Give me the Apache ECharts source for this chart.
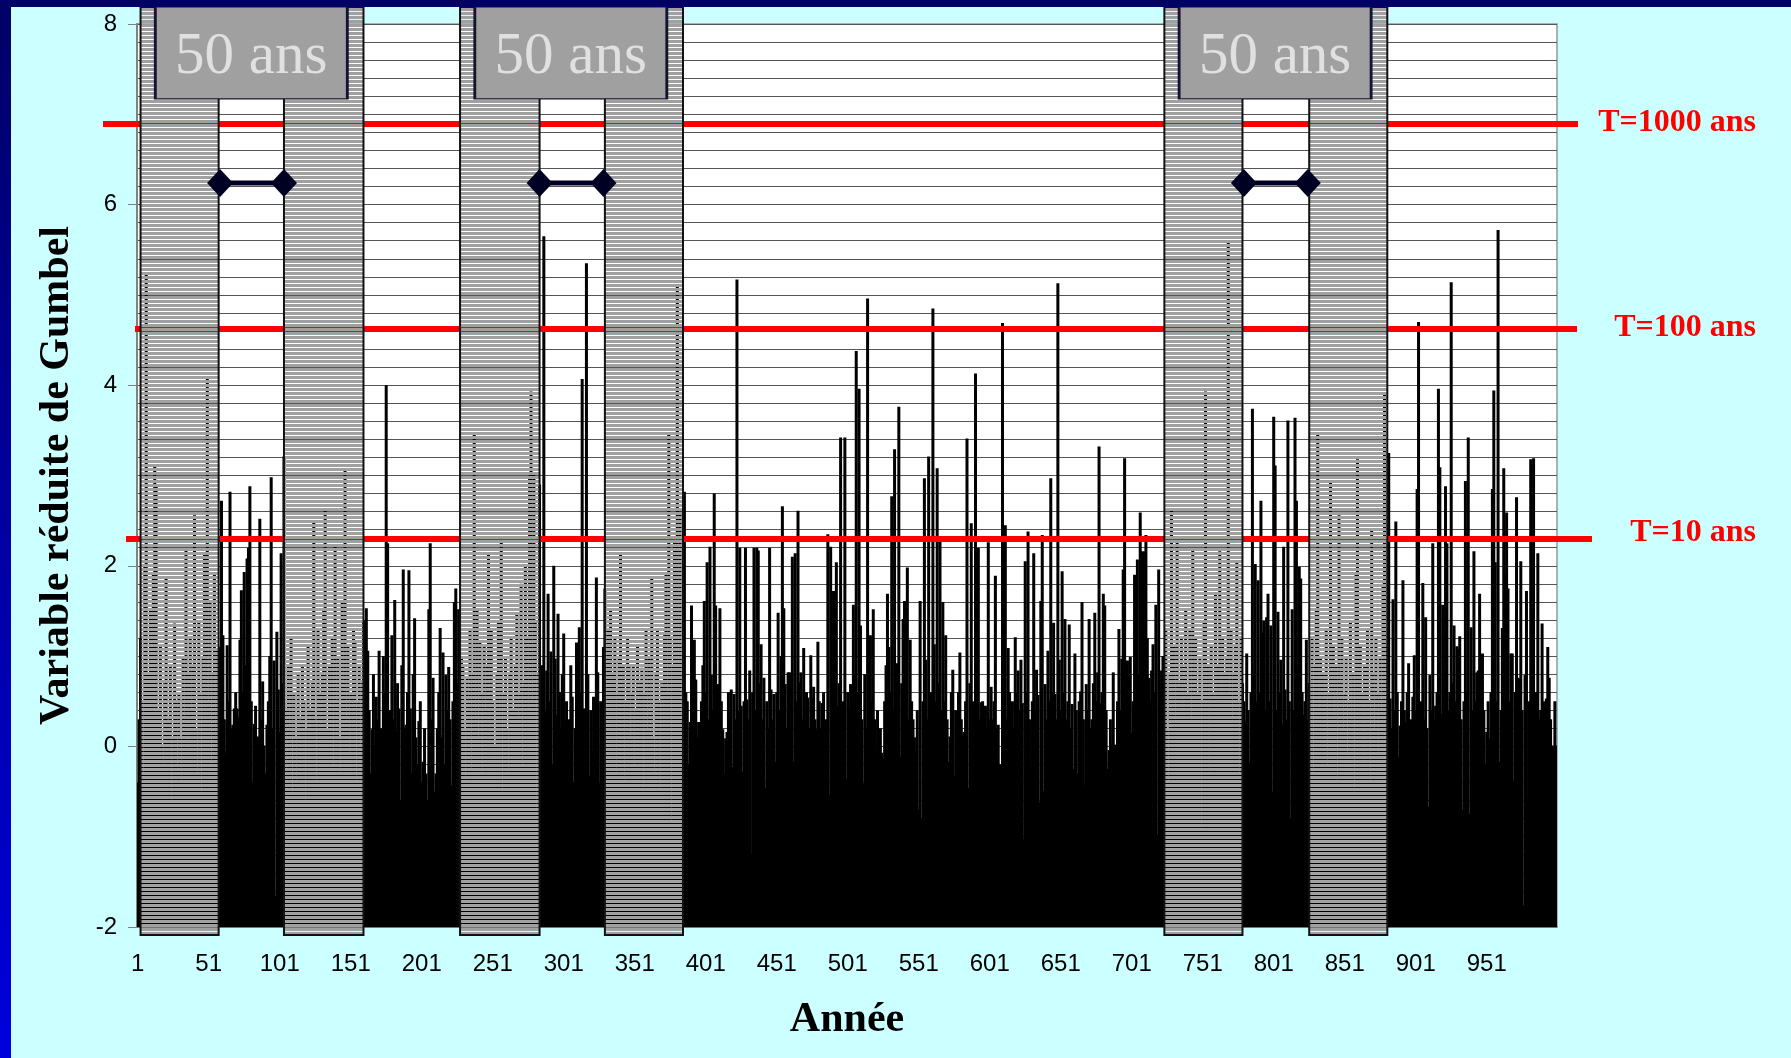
<!DOCTYPE html>
<html>
<head>
<meta charset="utf-8">
<title>Variable réduite de Gumbel</title>
<script src="https://cdn.jsdelivr.net/npm/echarts@6/dist/echarts.min.js"></script>
<style>
  html, body { margin: 0; padding: 0; background: #ccffff; }
  #chart { width: 1791px; height: 1058px; }
</style>
</head>
<body>
<div id="chart"></div>
<script>
// années 1..1000
var years = [];
for (var k = 1; k <= 1000; k++) years.push(String(k));

// variable réduite de Gumbel (une valeur par année)
var gumbel = [
  -0.4, 0.3, 1.2, 0.5, -0.3, 2.0, 5.25, 0.8, -0.5, 1.5,
  0.2, 1.9, 3.1, 2.88, 0.4, -0.6, 1.1, 0.0, -0.2, 0.7,
  1.86, 0.3, -0.5, 0.9, -0.6, 0.1, 1.36, 0.5, -0.2, 0.6,
  0.1, -0.4, 1.0, 0.3, 2.17, 0.8, -0.1, 1.2, 0.4, 0.9,
  2.56, 0.2, -0.3, 1.4, 0.6, -0.5, 1.0, 2.12, 0.3, 4.1,
  0.5, 1.6, -0.2, 0.8, 1.9, 0.1, 1.08, 0.4, 1.1, 2.72,
  1.23, 0.3, -0.07, 1.12, 0.5, 2.82, 0.2, 0.24, 0.42, 0.6,
  0.42, 0.32, 1.18, 1.73, 0.6, 1.93, 0.9, 2.08, 2.2, 2.88,
  0.5, -0.4, 0.25, 0.45, 0.0, 0.11, 2.52, 0.3, 0.72, 0.01,
  -0.3, 0.24, 0.5, 1.0, 2.98, 0.2, 0.95, -1.66, 1.27, 0.63,
  0.16, 2.14, 0.7, 3.21, 0.4, -0.3, 0.9, 0.2, 1.22, -0.5,
  0.6, 0.1, -0.4, 0.8, 0.3, -0.2, 0.9, 0.5, -0.6, 0.2,
  1.1, 0.4, -0.1, 0.7, 2.48, 0.3, -0.4, 1.3, 0.6, 0.0,
  0.8, 1.5, 2.61, 0.2, -0.5, 0.9, 0.4, 1.2, -0.2, 2.21,
  0.5, 1.0, 0.1, -0.3, 1.6, 0.7, 3.08, 0.3, 1.1, -0.1,
  0.6, 0.2, 1.3, 1.16, -0.4, 0.5, 0.9, 0.0, 0.7, 1.4,
  0.3, 1.53, 1.06, 0.4, -0.3, 0.19, 0.8, 0.01, 0.55, 0.3,
  1.06, 0.2, -0.5, 1.0, 0.6, 4.0, 2.25, -0.2, 0.4, 1.23,
  0.3, 1.62, 0.16, 0.7, 0.42, -0.6, 0.9, 1.96, 0.2, 0.24,
  0.6, 1.95, 0.42, -0.3, 0.8, 1.42, 0.1, -0.2, 0.28, 0.5,
  -0.4, -0.17, 0.2, -0.3, -0.6, 1.52, 2.25, 0.3, 0.76, -0.5,
  -0.3, 0.2, 0.6, 1.31, 0.1, 1.04, -0.2, 0.79, 0.4, 0.88,
  0.3, -0.43, 0.5, 1.6, 1.75, 0.7, 1.52, 0.6, 1.0, 0.9,
  0.2, -0.4, 0.76, 0.5, 1.3, -0.25, 0.8, 3.47, 0.3, 1.5,
  0.1, 1.16, 0.6, -0.3, 1.1, 0.4, 0.9, 2.12, 0.2, 1.3,
  0.5, -0.2, 0.01, 0.8, 1.4, 0.3, 2.26, -0.5, 0.6, 1.0,
  0.2, -0.3, 0.79, 1.2, 0.4, -0.1, 0.9, 1.47, 0.3, 0.6,
  1.8, -0.2, 0.7, 2.02, 1.2, 0.4, 3.0, 3.93, 0.5, 3.03,
  1.4, -0.72, 0.8, 2.9, 0.11, 0.9, 5.65, 0.4, 0.84, 1.69,
  0.5, 1.05, -0.2, 2.0, 0.97, 0.35, 1.47, 0.6, 0.19, 0.8,
  1.25, 0.28, 0.5, -0.1, 0.3, 0.9, 0.55, -0.4, 0.2, 1.15,
  0.71, 1.32, 0.6, 4.07, 0.42, 0.3, 5.35, 0.8, -0.33, 0.4,
  -0.07, 0.55, 0.2, 1.87, 0.82, -0.41, 0.5, 0.01, 1.1, 1.75,
  0.4, 1.3, -0.2, 1.5, 0.3, 0.8, 1.2, -0.3, 0.6, 1.0,
  2.15, 0.2, 0.9, -0.4, 0.5, 1.2, 0.9, 0.1, 0.6, 0.9,
  -0.2, 0.4, 1.1, 0.3, 0.7, 0.87, -0.5, 0.6, 1.31, 0.2,
  1.0, 0.4, 1.87, 0.1, -0.3, 0.8, 1.3, 0.5, -0.46, 0.7,
  0.2, 1.23, 1.9, 0.6, 3.45, 1.2, -0.83, 0.9, 2.3, 0.5,
  5.09, 1.4, 2.6, 0.3, 1.1, 2.82, 0.6, 0.5, -0.2, 0.27,
  1.56, 0.4, 1.18, 0.74, 0.1, 0.27, 0.19, 0.5, 0.9, 1.61,
  0.6, 2.04, 0.3, 2.21, 0.79, 0.4, 2.8, 1.56, 0.2, 0.69,
  1.53, 0.5, 0.19, -0.3, 0.09, 0.16, 0.6, 0.38, 0.63, -0.23,
  0.58, 0.3, 5.17, 0.4, 2.2, 0.45, -0.28, 0.5, 2.2, 0.52,
  0.3, 0.84, -1.19, 0.6, 2.2, 0.4, 2.2, 2.17, 0.7, 1.13,
  0.3, 0.76, -0.46, 0.5, 0.2, 2.2, 0.63, 0.3, 0.58, -0.17,
  0.6, 1.48, 0.4, 1.0, 2.66, 1.53, 0.69, 0.2, 0.82, 0.82,
  0.4, 2.1, -0.17, 2.14, 0.5, 2.61, 0.71, 0.82, 0.3, 1.09,
  0.27, 0.6, 0.54, 0.2, 1.01, 0.53, 0.66, 0.3, 0.19, 1.16,
  0.5, 0.2, 0.48, 0.6, -0.04, 0.3, 2.35, -0.54, 2.21, 0.6,
  1.72, -0.54, 2.04, 0.45, 0.7, 3.42, -1.09, 0.5, 3.42, -0.36,
  0.6, 0.42, 0.69, 0.3, 1.57, 0.8, 4.38, 0.6, 3.96, 1.34,
  0.3, -0.41, 0.8, 0.2, 4.96, -0.62, 1.23, 0.5, 1.52, 0.3,
  -0.04, 0.4, -0.36, 0.2, -0.07, -0.14, 0.5, 0.9, 1.69, 1.1,
  0.6, 2.77, 0.4, 3.29, 0.5, 0.92, 3.76, -0.12, 0.7, 1.41,
  1.61, 0.6, 1.98, 0.3, 1.18, 0.5, 0.3, 0.1, -0.07, 0.4,
  -0.7, 1.61, -0.8, 0.5, 2.97, 0.96, 0.3, 3.21, -0.17, 0.6,
  4.85, 1.13, 0.5, 3.08, 0.7, 2.28, 0.4, 1.6, 0.5, 1.23,
  0.3, -0.17, 0.11, 0.6, 0.85, -0.33, 0.4, 0.27, 0.6, 1.04,
  0.3, 0.12, 0.16, 0.5, 3.41, -0.46, 0.7, 2.47, 0.5, 0.49,
  4.13, 0.6, 2.2, 0.3, 0.49, 0.5, 0.23, 0.45, 0.2, 2.26,
  0.3, 0.66, 0.3, 0.5, 1.89, 0.2, 0.24, -0.2, -1.35, 4.69,
  0.5, 2.45, 0.3, 1.09, 0.6, 0.37, 0.5, 0.2, 1.21, 0.6,
  0.84, 0.4, 0.96, 0.48, -1.03, 2.05, 0.6, 2.38, 0.3, -0.25,
  0.5, 2.14, 0.4, 0.85, 0.57, -0.62, 1.61, 2.34, -0.49, 0.69,
  0.3, 1.06, 0.5, 2.97, 0.6, 1.37, 0.58, 0.3, 5.13, 0.96,
  0.4, 1.94, 0.6, 1.41, 0.3, 0.5, 1.35, 0.2, 0.47, -0.25,
  1.03, 0.4, -0.3, 0.5, 0.61, 1.6, 0.3, -0.43, 0.69, 0.4,
  1.41, 0.2, 0.3, 0.7, 1.48, 0.5, 0.82, 3.32, 0.48, 0.6,
  1.69, 1.56, 0.4, -0.25, -0.04, 0.3, 0.02, 0.82, 0.02, -0.28,
  0.5, 1.3, 0.4, 0.97, 1.96, 3.19, 0.6, 0.95, 0.79, 0.99,
  0.15, 0.5, 1.9, 1.55, 2.07, 0.8, 2.59, 2.16, 0.9, 2.16,
  2.34, 1.2, 0.76, 0.5, 0.84, 1.13, 0.6, 1.57, -0.98, 1.96,
  0.6, 0.84, 1.0, 0.9, 1.3, 0.2, -0.4, 0.8, 2.61, 0.5,
  1.1, 0.3, 2.26, 0.7, -0.2, 1.2, 0.4, 0.9, 1.5, 0.1,
  0.6, 1.3, 0.3, 2.17, 0.8, 1.2, -0.1, 0.6, 1.0, -0.9,
  0.5, 1.4, 3.93, 0.3, 0.9, -0.3, 1.1, 0.6, 0.2, 1.7,
  0.4, 0.9, 2.16, 0.5, 1.2, -0.2, 0.8, 1.0, 5.6, 0.6,
  1.3, 0.3, 0.8, 1.1, 2.04, 0.5, -0.3, 1.2, 0.7, 0.5,
  0.27, 1.03, 0.4, -0.17, 0.6, 3.74, 0.8, 2.02, 0.5, 1.84,
  0.6, 2.72, 1.26, 1.39, 0.4, 1.43, 1.69, 0.5, 1.34, -0.5,
  3.65, 3.11, 0.4, 1.49, 0.6, 0.96, 0.24, 2.21, 0.63, 0.3,
  3.61, 0.5, -0.8, 1.52, 0.4, 3.64, 2.72, 0.9, 1.99, 1.86,
  0.6, 0.35, 0.5, 1.18, 0.3, 0.7, 0.55, 1.2, -0.3, 0.9,
  1.5, 3.47, 0.4, 1.0, 0.2, 0.8, 0.55, 1.3, -0.2, 0.6,
  2.95, 0.4, 1.1, 0.3, 0.9, -0.4, 2.56, 0.7, 1.2, 0.2,
  0.6, 1.0, -0.1, 0.5, 1.4, 0.3, 0.8, -0.5, 1.9, 3.18,
  0.4, 1.1, 0.6, -0.2, 0.9, 0.3, 1.3, 0.5, -0.4, 2.41,
  0.8, 0.2, 1.2, 0.6, -0.1, 1.0, 0.4, 1.8, 3.92, 0.5,
  1.1, 3.25, 0.53, 0.2, 1.63, 0.4, 2.49, 0.6, -0.12, 0.23,
  0.5, 1.84, 0.4, 0.27, 0.6, 0.92, 0.05, 0.3, 0.55, 1.01,
  0.4, 2.85, 4.7, 0.35, 0.5, 1.81, 0.3, 1.43, 0.2, -0.67,
  0.79, 0.4, 2.25, 0.3, 0.45, 0.6, 3.96, 3.09, 0.36, 1.57,
  0.5, 2.88, 2.25, 0.4, 0.6, 5.14, 0.71, 1.34, 0.5, 1.11,
  1.08, 1.22, 0.3, -0.7, 0.5, 2.94, 0.6, 3.42, -0.75, 1.32,
  0.4, 2.16, 0.5, 0.82, 0.84, 1.69, 0.3, 1.03, 0.4, -0.2,
  0.16, 0.5, 0.09, 0.6, 2.85, 3.94, 2.04, 0.5, 5.72, -0.17,
  0.4, 1.31, 3.08, 1.9, 2.59, 1.75, 0.5, 1.03, 1.03, -0.38,
  0.6, 2.76, 0.76, 0.75, 2.05, 0.4, -1.76, 0.79, 1.72, -0.56,
  0.5, 3.18, 1.52, 3.19, 0.11, 0.6, 2.14, 0.3, 0.4, 1.36,
  0.5, -0.38, 0.53, 1.1, 0.76, 0.3, -0.41, 0.01, 0.5, 0.01
];

// périodes de retour
var returnNames = ['T=10 ans', 'T=100 ans', 'T=1000 ans'];
var returnLevels = [2.3, 4.62, 6.9];

// bandes grisées (index de l'année de début / de fin)
var bandStart = [2, 103, 227, 329, 723, 825];
var bandEnd = [57, 159, 283, 384, 778, 880];

// repères "50 ans" entre deux bandes
var spanStart = [58, 283, 779];
var spanEnd = [103, 328, 824];
var spanMid = [80, 305, 801];
var spanLevel = 6.24;
var boxLevel = 7.68;
var boxText = '50 ans';

// axe vertical
var yMin = -2, yMax = 8, yStep = 2;

var chart = echarts.init(document.getElementById('chart'));

// hachures horizontales des bandes grises
var hatch = document.createElement('canvas');
hatch.width = 4;
hatch.height = 4;
var ctx = hatch.getContext('2d');
ctx.fillStyle = '#a0a0a0';
ctx.fillRect(0, 0, 4, 3);

// début / fin des traits rouges (px) et décalage des libellés
var redFrom = [126, 135, 103];
var redTo = [1592, 1577, 1578];
var labelShift = [-6, -1, -1];

var bands = bandStart.map(function (s, i) {
  return [{ xAxis: s, y: 7 }, { xAxis: bandEnd[i], y: 935 }];
});
var redLines = returnLevels.map(function (v, i) {
  return [{ x: redFrom[i], yAxis: v }, { x: redTo[i], yAxis: v }];
});

var serif = 'Liberation Serif, Times New Roman, serif';
var sans = 'Liberation Sans, Arial, sans-serif';

var series = [{
  type: 'bar',
  data: gumbel,
  barWidth: 3,
  z: 2,
  itemStyle: { color: '#000' },
  silent: true,
  markLine: {
    z: 3,
    silent: true,
    symbol: ['none', 'none'],
    label: { show: false },
    lineStyle: { color: '#ff0000', width: 6, type: 'solid' },
    data: redLines
  }
}];

spanStart.forEach(function (s, i) {
  var serie = {
    type: 'line',
    data: [[s, spanLevel], [spanEnd[i], spanLevel]],
    z: 6,
    symbol: 'diamond',
    symbolSize: [26, 28],
    showSymbol: true,
    showAllSymbol: true,
    itemStyle: { color: '#000022' },
    lineStyle: { color: '#000022', width: 5 },
    silent: true,
    markPoint: {
      z: 7,
      silent: true,
      symbol: 'rect',
      symbolSize: [192, 92],
      itemStyle: { color: '#a0a0a0', borderColor: '#141430', borderWidth: 2 },
      label: {
        show: true,
        position: 'inside',
        offset: [0, 5],
        formatter: boxText,
        fontFamily: serif,
        fontSize: 59,
        color: '#e0e0e0'
      },
      data: [{ coord: [spanMid[i], boxLevel] }]
    }
  };
  if (i === 0) {
    serie.markArea = {
      z: 4,
      silent: true,
      itemStyle: {
        color: { image: hatch, repeat: 'repeat' },
        borderColor: '#111',
        borderWidth: 2
      },
      label: { show: false },
      data: bands
    };
  }
  series.push(serie);
});

chart.setOption({
  animation: false,
  backgroundColor: '#ccffff',
  grid: {
    left: 137, top: 24, width: 1420, height: 903,
    show: true,
    backgroundColor: '#ffffff',
    borderColor: '#999',
    borderWidth: 1.5,
    containLabel: false,
    outerBoundsMode: 'none'
  },
  xAxis: {
    type: 'category',
    data: years,
    name: 'Année',
    nameLocation: 'middle',
    nameGap: 72,
    nameTextStyle: { fontFamily: serif, fontWeight: 'bold', fontSize: 42, color: '#000' },
    axisLine: { onZero: false, lineStyle: { color: '#808080', width: 1.5 } },
    axisTick: { interval: 0, length: 6, lineStyle: { color: '#4d5b5b' } },
    axisLabel: { interval: 49, margin: 25, fontFamily: sans, fontSize: 24, color: '#000' },
    splitLine: { show: false }
  },
  yAxis: {
    type: 'value',
    min: yMin, max: yMax, interval: yStep,
    startValue: yMin,
    name: 'Variable réduite de Gumbel',
    nameLocation: 'middle',
    nameRotate: 90,
    nameGap: 59,
    nameTextStyle: { fontFamily: serif, fontWeight: 'bold', fontSize: 42, color: '#000' },
    axisLine: { show: true, lineStyle: { color: '#808080', width: 2 } },
    axisTick: { show: true, length: 9, lineStyle: { color: '#808080' } },
    axisLabel: { margin: 20, fontFamily: sans, fontSize: 24, color: '#000' },
    splitLine: { show: true, lineStyle: { color: '#555', width: 1 } },
    minorTick: { show: false, splitNumber: 10 },
    minorSplitLine: { show: true, lineStyle: { color: '#555', width: 1 } }
  },
  graphic: [
    { type: 'rect', id: 'topBand', shape: { x: 0, y: 0, width: 1791, height: 7 }, style: { fill: '#000066' }, z: 10 },
    {
      type: 'rect', id: 'leftBand', shape: { x: 0, y: 0, width: 11, height: 1058 }, z: 10,
      style: {
        fill: new echarts.graphic.LinearGradient(0, 0, 0, 1, [
          { offset: 0, color: '#000066' },
          { offset: 1, color: '#0000dd' }
        ])
      }
    }
  ],
  series: series
});

// libellés des périodes de retour, placés sur l'échelle de l'axe
var labels = returnLevels.map(function (v, i) {
  return {
    type: 'text',
    id: 'ret' + i,
    x: 1756,
    y: chart.convertToPixel({ yAxisIndex: 0 }, v) + labelShift[i],
    z: 10,
    style: {
      text: returnNames[i],
      fill: '#ff0000',
      font: 'bold 32px ' + serif,
      align: 'right',
      verticalAlign: 'middle'
    }
  };
});
chart.setOption({ graphic: labels });
</script>
</body>
</html>
